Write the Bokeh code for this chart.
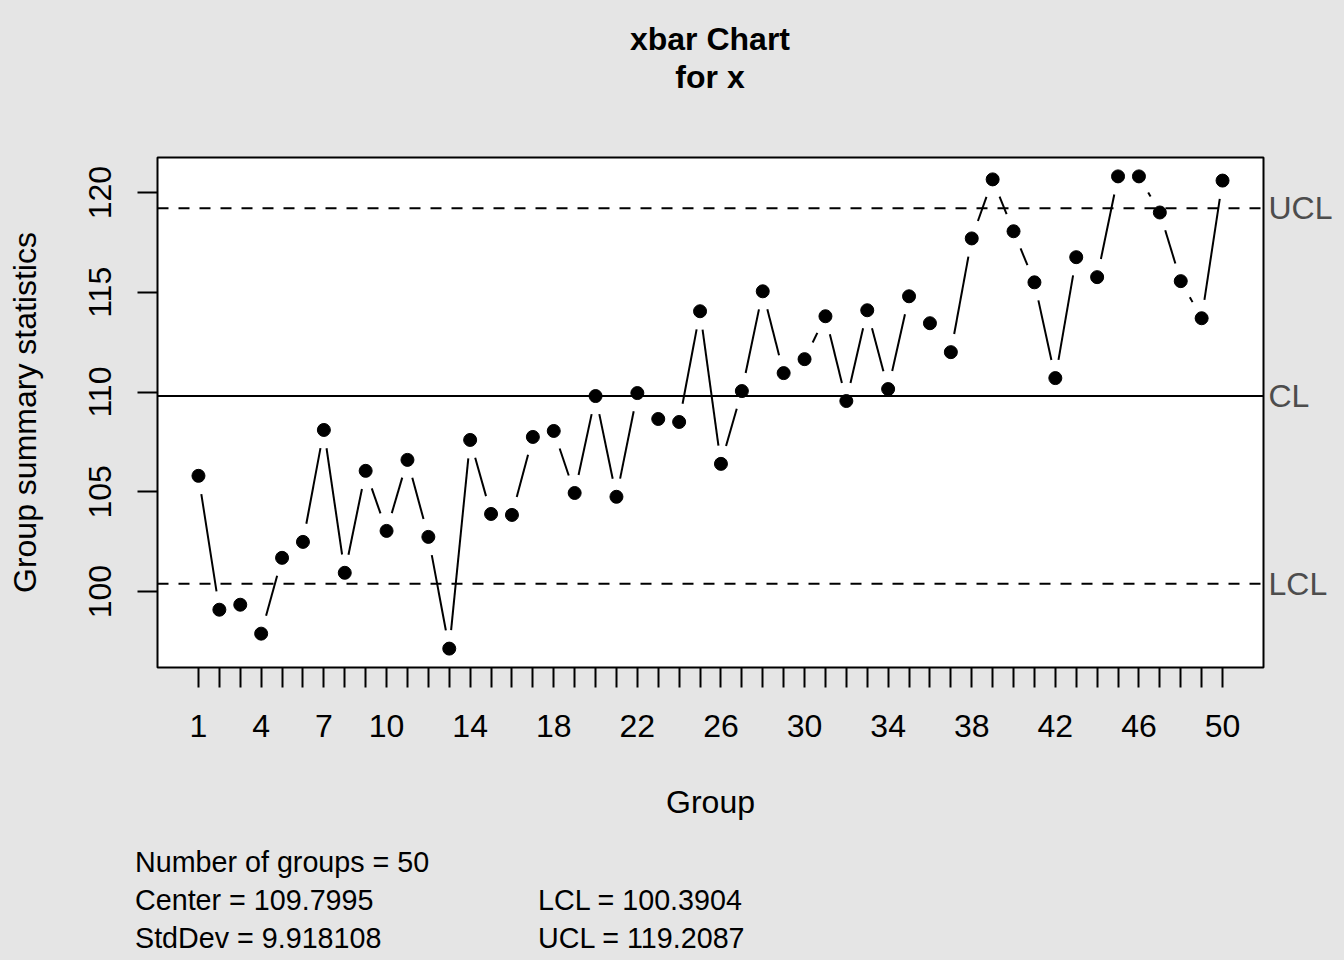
import math
from bokeh.plotting import figure
from bokeh.layouts import column
from bokeh.models import FixedTicker, Span, LinearAxis, Div
from bokeh.embed import file_html
from bokeh.resources import INLINE

# ---- data ----
groups = list(range(1, 51))
stats = [105.8, 99.09, 99.34, 97.89, 101.69, 102.49, 108.1, 100.94, 106.05, 103.04,
         106.6, 102.74, 97.14, 107.6, 103.89, 103.84, 107.75, 108.05, 104.94, 109.8,
         104.75, 109.95, 108.65, 108.5, 114.05, 106.4, 110.05, 115.05, 110.95, 111.65,
         113.8, 109.55, 114.1, 110.15, 114.8, 113.45, 112.0, 117.7, 120.66, 118.06,
         115.5, 110.7, 116.76, 115.76, 120.81, 120.81, 119.0, 115.56, 113.7, 120.6]
center = 109.7995
lcl = 100.3904
ucl = 119.2087
stddev = 9.918108
x_tick_labels = [1, 4, 7, 10, 14, 18, 22, 26, 30, 34, 38, 42, 46, 50]
y_ticks = [100, 105, 110, 115, 120]
title_lines = ["xbar Chart", "for x"]
x_title = "Group"
y_title = "Group summary statistics"
limit_names = ["UCL", "CL", "LCL"]

FONT = "Liberation Sans"
BG = "#e5e5e5"

# ---- ranges (R style 4% expansion) ----
xlo, xhi = min(groups), max(groups)
xpad = 0.04 * (xhi - xlo)
x0, x1 = xlo - xpad, xhi + xpad
ylo, yhi = min(stats + [lcl]), max(stats + [ucl])
ypad = 0.04 * (yhi - ylo)
y0, y1 = ylo - ypad, yhi + ypad

W = 1344
TH, H1, H2 = 100, 730, 130          # title block, chart, statistics block
ML, MR, MT = 157, 81, 57
FW, FH = W - ML - MR, 510
MB = H1 - MT - FH

# ---- title block ----
title_tops = [23, 61]
title_html = "".join(
    '<div style="position:absolute;left:%dpx;width:%dpx;top:%dpx;text-align:center;'
    'line-height:1;white-space:nowrap;">%s</div>' % (ML, FW, tp, t)
    for tp, t in zip(title_tops, title_lines))
title_div = Div(
    text=('<div style="position:relative;width:%dpx;height:%dpx;background:%s;'
          'font-family:\'%s\';font-size:32px;font-weight:bold;color:#000000;">%s</div>'
          % (W, TH, BG, FONT, title_html)),
    width=W, height=TH, styles={"background-color": BG, "margin": "0", "padding": "0"})

# ---- chart ----
p = figure(width=W, height=H1, x_range=(x0, x1), y_range=(y0, y1),
           output_backend="svg", toolbar_location=None, title=None,
           min_border_left=ML, min_border_right=MR,
           min_border_top=MT, min_border_bottom=MB)
p.background_fill_color = "white"
p.border_fill_color = BG
p.outline_line_color = "black"
p.outline_line_width = 2
p.grid.visible = False
p.styles = {"background-color": BG}

p.xaxis.ticker = FixedTicker(ticks=groups)
p.xaxis.major_label_overrides = {g: (str(g) if g in x_tick_labels else "") for g in groups}
p.yaxis.ticker = FixedTicker(ticks=y_ticks)
p.yaxis.major_label_orientation = "vertical"
for ax in (p.xaxis, p.yaxis):
    ax.axis_line_color = None
    ax.major_tick_in = 0
    ax.major_tick_out = 20
    ax.major_tick_line_width = 2
    ax.major_tick_line_color = "black"
    ax.minor_tick_line_color = None
    ax.major_label_text_font = FONT
    ax.major_label_text_font_size = "32px"
    ax.major_label_text_color = "black"
    ax.axis_label_text_font = FONT
    ax.axis_label_text_font_size = "32px"
    ax.axis_label_text_font_style = "normal"
    ax.axis_label_text_color = "black"
p.xaxis.major_label_standoff = 27
p.yaxis.major_label_standoff = 26
p.xaxis.axis_label = x_title
p.yaxis.axis_label = y_title
p.xaxis.axis_label_standoff = 44
p.yaxis.axis_label_standoff = 44

# right axis carrying the limit names
lim_axis = LinearAxis(ticker=FixedTicker(ticks=[ucl, center, lcl]),
                      major_label_overrides={ucl: limit_names[0], center: limit_names[1],
                                             lcl: limit_names[2]})
lim_axis.axis_line_color = None
lim_axis.major_tick_in = 0
lim_axis.major_tick_out = 0
lim_axis.minor_tick_line_color = None
lim_axis.major_tick_line_color = None
lim_axis.major_label_standoff = 5
lim_axis.major_label_text_font = FONT
lim_axis.major_label_text_font_size = "32px"
lim_axis.major_label_text_color = "#4d4d4d"
p.add_layout(lim_axis, "right")

# type="b" line segments with gaps around points
kx = FW / (x1 - x0)
ky = FH / (y1 - y0)
gap = 18.5
sx0, sy0, sx1, sy1 = [], [], [], []
for i in range(len(groups) - 1):
    ax_, ay_ = groups[i] * kx, stats[i] * ky
    bx_, by_ = groups[i + 1] * kx, stats[i + 1] * ky
    d = math.hypot(bx_ - ax_, by_ - ay_)
    if d <= 2 * gap:
        continue
    f = gap / d
    sx0.append((ax_ + (bx_ - ax_) * f) / kx)
    sy0.append((ay_ + (by_ - ay_) * f) / ky)
    sx1.append((bx_ - (bx_ - ax_) * f) / kx)
    sy1.append((by_ - (by_ - ay_) * f) / ky)
p.segment(x0=sx0, y0=sy0, x1=sx1, y1=sy1, line_color="black", line_width=2)
p.scatter(groups, stats, size=13, color="black")

# limit lines
p.add_layout(Span(location=center, dimension="width", line_color="black", line_width=2))
for lim in (ucl, lcl):
    p.add_layout(Span(location=lim, dimension="width", line_color="black",
                      line_width=2, line_dash="11 10"))

# ---- statistics block ----
stat_text = ["Number of groups = %d" % len(groups),
             "Center = %.4f" % center,
             "StdDev = %.6f" % stddev,
             "LCL = %.4f" % lcl,
             "UCL = %.4f" % ucl]
stat_left = [135, 135, 135, 538, 538]
stat_top = [18, 56, 94, 56, 94]
spans = "".join(
    '<span style="position:absolute;left:%dpx;top:%dpx;line-height:1;white-space:nowrap;">%s</span>'
    % (lx, ty, t) for lx, ty, t in zip(stat_left, stat_top, stat_text))
stats_div = Div(
    text=('<div style="position:relative;width:%dpx;height:%dpx;background:%s;'
          'font-family:\'%s\';font-size:28.7px;color:#000000;margin:0;padding:0;">%s</div>'
          % (W, H2, BG, FONT, spans)),
    width=W, height=H2, styles={"background-color": BG, "margin": "0", "padding": "0"})

layout = column(title_div, p, stats_div, spacing=0,
                styles={"background-color": BG})
open("out.html", "w").write(file_html(layout, INLINE))
